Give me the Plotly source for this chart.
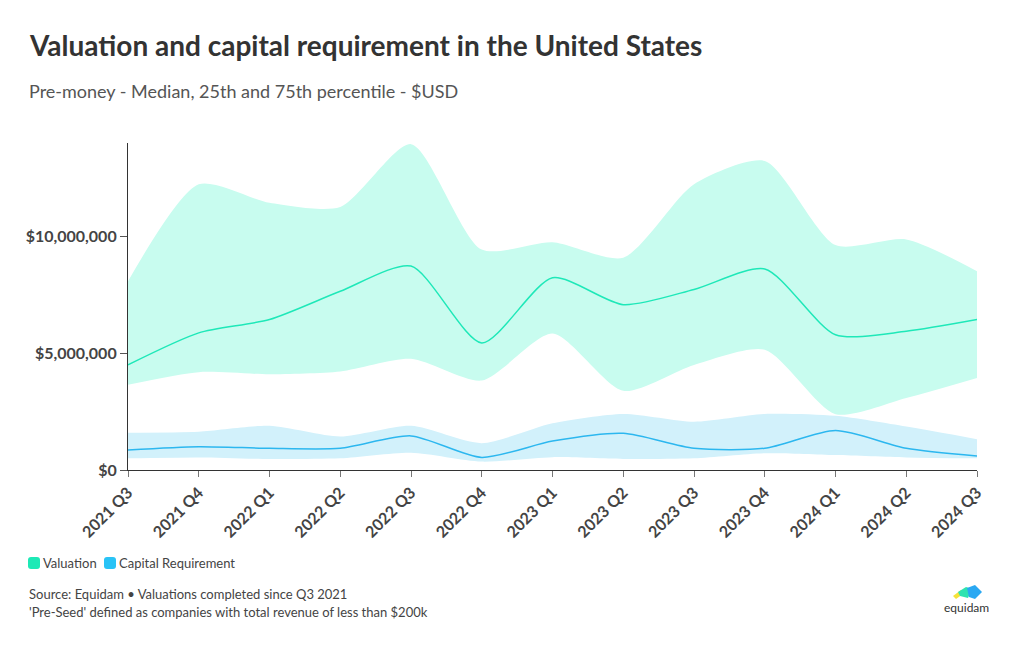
import plotly.graph_objects as go

quarters = ["2021 Q3", "2021 Q4", "2022 Q1", "2022 Q2", "2022 Q3", "2022 Q4", "2023 Q1",
            "2023 Q2", "2023 Q3", "2023 Q4", "2024 Q1", "2024 Q2", "2024 Q3"]

val_median = [4.50e6, 5.87e6, 6.44e6, 7.65e6, 8.73e6, 5.44e6, 8.23e6, 7.08e6, 7.73e6, 8.61e6, 5.79e6, 5.94e6, 6.44e6]
val_p75 = [8.08e6, 12.23e6, 11.44e6, 11.26e6, 13.95e6, 9.44e6, 9.75e6, 9.09e6, 12.23e6, 13.23e6, 9.63e6, 9.87e6, 8.51e6]
val_p25 = [3.65e6, 4.19e6, 4.10e6, 4.22e6, 4.76e6, 3.83e6, 5.84e6, 3.39e6, 4.50e6, 5.15e6, 2.39e6, 3.08e6, 3.94e6]

cap_median = [0.86e6, 1.00e6, 0.93e6, 0.93e6, 1.46e6, 0.54e6, 1.24e6, 1.57e6, 0.93e6, 0.93e6, 1.69e6, 0.93e6, 0.60e6]
cap_p75 = [1.60e6, 1.64e6, 1.89e6, 1.43e6, 1.89e6, 1.15e6, 2.00e6, 2.40e6, 2.07e6, 2.40e6, 2.32e6, 1.86e6, 1.32e6]
cap_p25 = [0.50e6, 0.54e6, 0.47e6, 0.50e6, 0.74e6, 0.36e6, 0.55e6, 0.47e6, 0.50e6, 0.72e6, 0.64e6, 0.54e6, 0.50e6]

series_names = ["Valuation", "Capital Requirement"]

y_ticks = [0, 5e6, 10e6]
y_tick_labels = ["$0", "$5,000,000", "$10,000,000"]

VAL_LINE = "#1ee8b8"
VAL_FILL = "#c8fcef"
CAP_LINE = "#2cb7ef"
CAP_FILL = "#d2f1fb"
VAL_KEY = "#1de9b6"
CAP_KEY = "#29c3f6"
FONT = "Lato"
TXT = "#333333"

# The page body has an 8px default margin; work in screen pixels and subtract it.
OFF = 8
W, H = 1020 - OFF, 650 - OFF
SL, SR, ST, SB = 128, 977, 143, 470  # plot area in screen px

x = list(range(len(quarters)))
SM = 0.7

fig = go.Figure()

fig.add_trace(go.Scatter(x=x, y=val_p25, mode="lines", line=dict(width=0, shape="spline", smoothing=SM),
                         showlegend=False, hoverinfo="skip"))
fig.add_trace(go.Scatter(x=x, y=val_p75, mode="lines", line=dict(width=0, shape="spline", smoothing=SM),
                         fill="tonexty", fillcolor=VAL_FILL, showlegend=False, hoverinfo="skip"))
fig.add_trace(go.Scatter(x=x, y=cap_p25, mode="lines", line=dict(width=0, shape="spline", smoothing=SM),
                         showlegend=False, hoverinfo="skip"))
fig.add_trace(go.Scatter(x=x, y=cap_p75, mode="lines", line=dict(width=0, shape="spline", smoothing=SM),
                         fill="tonexty", fillcolor=CAP_FILL, showlegend=False, hoverinfo="skip"))
fig.add_trace(go.Scatter(x=x, y=val_median, mode="lines", name=series_names[0],
                         line=dict(width=1.5, color=VAL_LINE, shape="spline", smoothing=SM), showlegend=False))
fig.add_trace(go.Scatter(x=x, y=cap_median, mode="lines", name=series_names[1],
                         line=dict(width=1.5, color=CAP_LINE, shape="spline", smoothing=SM), showlegend=False))

fig.update_layout(
    width=W, height=H,
    margin=dict(l=SL - OFF, r=W - (SR - OFF), t=ST - OFF, b=H - (SB - OFF)),
    paper_bgcolor="white", plot_bgcolor="white",
    font=dict(family=FONT, color=TXT),
    showlegend=False,
    xaxis=dict(range=[0, 12], tickmode="array", tickvals=x, ticktext=quarters,
               tickangle=-45, showgrid=False, zeroline=False,
               showline=True, linecolor="#333333", linewidth=1.2,
               ticks="outside", ticklen=6, tickcolor="#777777",
               tickfont=dict(size=16, family=FONT, color="#444444", weight="bold")),
    yaxis=dict(range=[0, 14e6], tickmode="array", tickvals=y_ticks, ticktext=y_tick_labels,
               showgrid=False, zeroline=False,
               showline=True, linecolor="#333333", linewidth=1.2,
               ticks="outside", ticklen=7, tickcolor="#555555",
               tickfont=dict(size=16, family=FONT, color="#444444", weight="bold")),
)

pw, ph = SR - SL, SB - ST

def px2paper(sx, sy):
    return (sx - SL) / pw, (SB - sy) / ph

def text(t, sx, sy, size, color="#444444", xanchor="left"):
    px, py = px2paper(sx, sy)
    fig.add_annotation(text=t, x=px, y=py, xref="paper", yref="paper", xanchor=xanchor,
                       yanchor="middle", showarrow=False,
                       font=dict(size=size, color=color, family=FONT))

text("<b>Valuation and capital requirement in the United States</b>", 27, 45, 28, "#333333")
text("Pre-money - Median, 25th and 75th percentile - $USD", 27, 91, 18, "#555555")
text("Source: Equidam • Valuations completed since Q3 2021", 27, 594, 13)
text("'Pre-Seed' defined as companies with total revenue of less than $200k", 27, 612, 13)
text("equidam", 966, 607, 12, "#333333", "center")

def path_from(points, close=True):
    pts = [px2paper(a, b) for a, b in points]
    return "M " + " L ".join(f"{a},{b}" for a, b in pts) + (" Z" if close else "")

def rounded_square(x0, y0, s, r, color):
    x1, y1 = x0 + s, y0 + s
    P = lambda a, b: "{},{}".format(*px2paper(a, b))
    path = (f"M {P(x0 + r, y0)} L {P(x1 - r, y0)} Q {P(x1, y0)} {P(x1, y0 + r)} "
            f"L {P(x1, y1 - r)} Q {P(x1, y1)} {P(x1 - r, y1)} L {P(x0 + r, y1)} "
            f"Q {P(x0, y1)} {P(x0, y1 - r)} L {P(x0, y0 + r)} Q {P(x0, y0)} {P(x0 + r, y0)} Z")
    fig.add_shape(type="path", path=path, xref="paper", yref="paper",
                  fillcolor=color, line=dict(width=0))

# Legend
rounded_square(28, 557, 12, 3, VAL_KEY)
text(series_names[0], 41, 563, 13)
rounded_square(104, 557, 12, 3, CAP_KEY)
text(series_names[1], 117, 563, 13)

# Logo
def poly(points, color):
    fig.add_shape(type="path", path=path_from(points), xref="paper", yref="paper",
                  fillcolor=color, line=dict(width=0))

poly([(953, 596), (961, 590), (963, 594), (956, 599)], "#f5e23a")
poly([(958, 592), (966, 587), (972, 589), (968, 598), (960, 596)], "#2fe3b0")
poly([(967, 588), (975, 585), (982, 592), (975, 599), (969, 597)], "#2aa8f2")

fig.write_html("out.html")
